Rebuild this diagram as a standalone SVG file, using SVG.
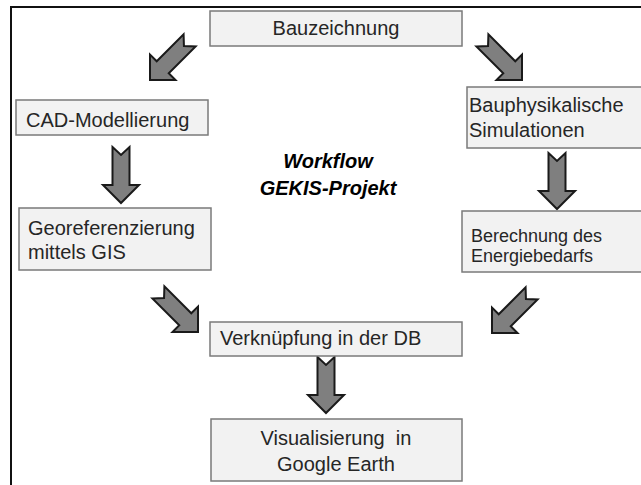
<svg xmlns="http://www.w3.org/2000/svg" width="641" height="485" viewBox="0 0 641 485">
<defs>
<style>
.box{fill:#f2f2f2;stroke:#7a7a7a;stroke-width:1.5}
.t{font-family:"Liberation Sans",Arial,sans-serif;font-size:20px;fill:#262626}
.s{font-size:18px}
.c{text-anchor:middle}
.title{font-family:"Liberation Sans",Arial,sans-serif;font-size:20px;font-weight:bold;font-style:italic;fill:#000;text-anchor:middle}
.arr{fill:#7f7f7f;stroke:#1a1a1a;stroke-width:2;stroke-linejoin:miter}
</style>
<path id="ar" d="M-8.5,0 L0,8 L8.5,0 L8.5,38 L18,38 L0,56 L-18,38 L-8.5,38 Z"/>
</defs>
<rect width="641" height="485" fill="#fff"/>
<path d="M11,485 L11,7 L641,7" fill="none" stroke="#111" stroke-width="2"/>
<g id="connectors">
<use href="#ar" class="arr" transform="translate(189.6,40.4) rotate(45)"/>
<use href="#ar" class="arr" transform="translate(482.4,40.4) rotate(-45)"/>
<use href="#ar" class="arr" transform="translate(121,147)"/>
<use href="#ar" class="arr" transform="translate(557,153)"/>
<use href="#ar" class="arr" transform="translate(158.4,292.4) rotate(-45)"/>
<use href="#ar" class="arr" transform="translate(531.6,293.4) rotate(45)"/>
<use href="#ar" class="arr" transform="translate(326,357)"/>
</g>
<g id="title">
<text class="title" x="328" y="168">Workflow</text>
<text class="title" x="328" y="195">GEKIS-Projekt</text>
</g>
<g id="n-bauzeichnung">
<rect class="box" x="210" y="11" width="252" height="35"/>
<text class="t c" x="336" y="35">Bauzeichnung</text>
</g>
<g id="n-cad">
<rect class="box" x="16" y="100" width="192" height="35"/>
<text class="t" x="26" y="127">CAD-Modellierung</text>
</g>
<g id="n-bauphys">
<rect class="box" x="467" y="87" width="180" height="61"/>
<text class="t" x="469" y="112">Bauphysikalische</text>
<text class="t" x="469" y="137">Simulationen</text>
</g>
<g id="n-georef">
<rect class="box" x="19" y="208" width="192" height="62"/>
<text class="t" x="28" y="235">Georeferenzierung</text>
<text class="t" x="28" y="259">mittels GIS</text>
</g>
<g id="n-berechnung">
<rect class="box" x="462" y="211" width="185" height="61"/>
<text class="t s" x="471" y="242">Berechnung des</text>
<text class="t s" x="471" y="262">Energiebedarfs</text>
</g>
<g id="n-verknuepfung">
<rect class="box" x="210" y="322" width="252" height="34"/>
<text class="t" x="220" y="345">Verknüpfung in der DB</text>
</g>
<g id="n-visualisierung">
<rect class="box" x="211" y="419" width="251" height="62"/>
<text class="t c" x="336" y="445" xml:space="preserve">Visualisierung  in</text>
<text class="t c" x="336" y="471">Google Earth</text>
</g>
</svg>
